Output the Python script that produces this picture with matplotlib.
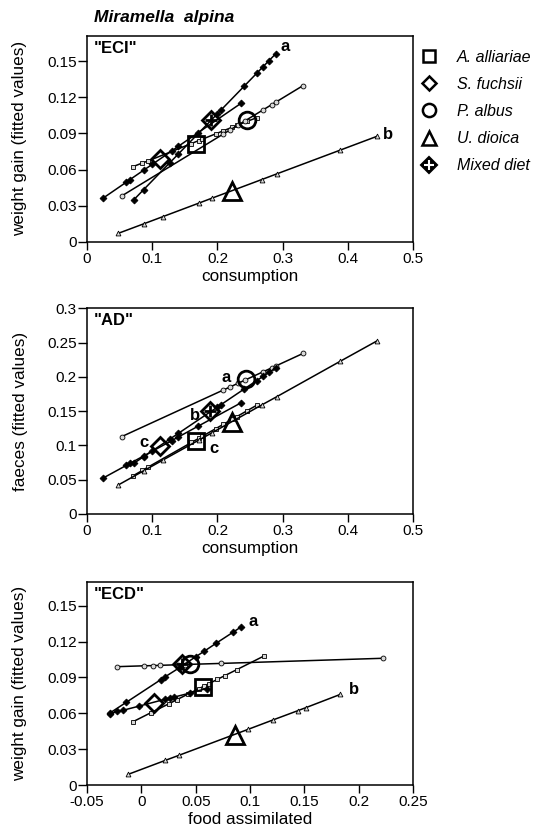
import matplotlib.pyplot as plt
from matplotlib.lines import Line2D
from matplotlib.legend_handler import HandlerTuple

plt.rcParams['font.family'] = ['Liberation Sans', 'DejaVu Sans']

# ------------------------
# Data (fitted values per individual + diet means)
# ------------------------
# consumption (shared by "ECI" and "AD")
cons_sq = [0.071, 0.085, 0.093, 0.16, 0.171, 0.177, 0.197, 0.209, 0.222, 0.23, 0.245, 0.26]
cons_dia = [0.024, 0.06, 0.066, 0.088, 0.1, 0.13, 0.14, 0.17, 0.236]
cons_circ = [0.053, 0.208, 0.219, 0.231, 0.242, 0.27, 0.283, 0.29, 0.331]
cons_tri = [0.048, 0.087, 0.116, 0.172, 0.191, 0.268, 0.291, 0.388, 0.444]
cons_mix = [0.072, 0.087, 0.127, 0.14, 0.2, 0.205, 0.241, 0.26, 0.27, 0.279, 0.289]

# "ECI": weight gain vs consumption
eci_sq = [0.0625, 0.0655, 0.067, 0.0816, 0.084, 0.0853, 0.0896, 0.0922, 0.095, 0.0967, 0.100, 0.103]
eci_dia = [0.036, 0.0494, 0.0517, 0.0599, 0.0643, 0.0755, 0.0793, 0.0905, 0.115]
eci_circ = [0.038, 0.0892, 0.0928, 0.0967, 0.1004, 0.1096, 0.1139, 0.1162, 0.1297]
eci_tri = [0.007, 0.0149, 0.0208, 0.0322, 0.0361, 0.0517, 0.0564, 0.0761, 0.0875]
eci_mix = [0.035, 0.0434, 0.0657, 0.0729, 0.1064, 0.1092, 0.1293, 0.1399, 0.1455, 0.1505, 0.156]

# "AD": faeces vs consumption
ad_sq = [0.0559, 0.0635, 0.068, 0.1042, 0.1101, 0.1134, 0.1242, 0.1307, 0.1378, 0.1421, 0.1503, 0.1584]
ad_dia = [0.052, 0.0707, 0.0738, 0.0852, 0.0914, 0.107, 0.1122, 0.1278, 0.162]
ad_circ = [0.1127, 0.1803, 0.185, 0.1903, 0.1951, 0.2073, 0.213, 0.216, 0.234]
ad_tri = [0.0423, 0.063, 0.0784, 0.108, 0.118, 0.159, 0.171, 0.2225, 0.252]
ad_mix = [0.074, 0.0836, 0.1092, 0.1175, 0.1559, 0.1591, 0.1822, 0.1943, 0.2007, 0.2064, 0.2129]

# "ECD": weight gain vs food assimilated
fa_sq = [-0.008, 0.009, 0.025, 0.033, 0.043, 0.053, 0.058, 0.062, 0.07, 0.077, 0.088, 0.113]
ecd_sq = [0.0528, 0.0606, 0.0678, 0.0715, 0.0761, 0.0806, 0.0829, 0.0847, 0.0884, 0.0916, 0.0966, 0.108]
fa_dia = [-0.029, -0.022, -0.017, -0.002, 0.022, 0.026, 0.03, 0.045, 0.06]
ecd_dia = [0.0597, 0.0615, 0.0625, 0.066, 0.0718, 0.0728, 0.0735, 0.077, 0.0807]
fa_circ = [-0.022, 0.002, 0.011, 0.017, 0.034, 0.04, 0.073, 0.222]
ecd_circ = [0.099, 0.0997, 0.0999, 0.1001, 0.1006, 0.1008, 0.1017, 0.106]
fa_tri = [-0.0125, 0.022, 0.035, 0.098, 0.121, 0.144, 0.151, 0.183]
ecd_tri = [0.0088, 0.0206, 0.025, 0.0465, 0.0544, 0.0622, 0.0646, 0.0758]
fa_mix = [-0.029, -0.014, 0.018, 0.022, 0.035, 0.05, 0.058, 0.069, 0.084, 0.092]
ecd_mix = [0.0602, 0.0691, 0.0882, 0.0906, 0.0981, 0.1073, 0.112, 0.1187, 0.1276, 0.1324]

# diet means (x, y) per panel: square, diamond, circle, triangle, mixed
eci_means = [(0.167, 0.081), (0.112, 0.069), (0.245, 0.101), (0.222, 0.042), (0.19, 0.101)]
ad_means = [(0.167, 0.107), (0.112, 0.099), (0.244, 0.197), (0.222, 0.134), (0.189, 0.150)]
ecd_means = [(0.057, 0.082), (0.012, 0.069), (0.045, 0.101), (0.086, 0.042), (0.037, 0.101)]

diets = ["A. alliariae", "S. fuchsii", "P. albus", "U. dioica", "Mixed diet"]

# ------------------------
# Styles
# ------------------------
small_style = [
    dict(marker='s', mfc='0.85'),
    dict(marker='D', mfc='k'),
    dict(marker='o', mfc='0.85'),
    dict(marker='^', mfc='0.85'),
    dict(marker='D', mfc='k'),
]
big_style = [
    dict(marker='s', ms=11),
    dict(marker='D', ms=9.5),
    dict(marker='o', ms=12),
    dict(marker='^', ms=13),
    dict(marker='D', ms=9.5),
]


def draw_panel(ax, xs, ys, means):
    for x, y, st in zip(xs, ys, small_style):
        ax.plot(x, y, color='k', lw=1.1, ms=3.5, mec='k', mew=0.6, zorder=2, **st)
    for i, (mx, my) in enumerate(means):
        ax.plot([mx], [my], ls='none', mfc='none', mec='k', mew=2, zorder=4, **big_style[i])
        if i == 4:
            ax.plot([mx], [my], ls='none', marker='+', ms=8, mec='k', mew=2, zorder=5)


def style_axes(ax, xlim, ylim, xticks, xlabels, yticks, ylabels, xlabel, ylabel, tag):
    ax.set_xlim(*xlim)
    ax.set_ylim(*ylim)
    ax.set_xticks(xticks)
    ax.set_xticklabels(xlabels)
    ax.set_yticks(yticks)
    ax.set_yticklabels(ylabels)
    ax.tick_params(axis='x', direction='out', length=6, width=1, labelsize=11, pad=1.5)
    ax.tick_params(axis='y', direction='out', length=6.5, width=1, labelsize=11, pad=1)
    for s in ax.spines.values():
        s.set_linewidth(1.1)
    ax.set_xlabel(xlabel, fontsize=12.3, labelpad=2)
    ax.set_ylabel(ylabel, fontsize=12.3, labelpad=14)
    ax.text(0.02, 0.975, tag, transform=ax.transAxes, fontsize=12, weight='bold',
            ha='left', va='top')


fig = plt.figure(figsize=(5.49, 8.33), dpi=100)
ax1 = fig.add_axes([0.1585, 0.7098, 0.594, 0.247])
ax2 = fig.add_axes([0.1585, 0.383, 0.594, 0.247])
ax3 = fig.add_axes([0.1585, 0.0576, 0.594, 0.244])

cons = [cons_sq, cons_dia, cons_circ, cons_tri, cons_mix]
x_lab = [0, 0.1, 0.2, 0.3, 0.4, 0.5]
x_txt = ["0", "0.1", "0.2", "0.3", "0.4", "0.5"]
y_gain = [0, 0.03, 0.06, 0.09, 0.12, 0.15]
y_gain_txt = ["0", "0.03", "0.06", "0.09", "0.12", "0.15"]

# ECI
draw_panel(ax1, cons, [eci_sq, eci_dia, eci_circ, eci_tri, eci_mix], eci_means)
style_axes(ax1, (0, 0.5), (0, 0.171), x_lab, x_txt, y_gain, y_gain_txt,
           "consumption", "weight gain (fitted values)", '"ECI"')
ax1.text(0.304, 0.1625, "a", fontsize=12, weight='bold', ha='center', va='center')
ax1.text(0.462, 0.089, "b", fontsize=12, weight='bold', ha='center', va='center')

# AD
draw_panel(ax2, cons, [ad_sq, ad_dia, ad_circ, ad_tri, ad_mix], ad_means)
style_axes(ax2, (0, 0.5), (0, 0.3), x_lab, x_txt,
           [0, 0.05, 0.1, 0.15, 0.2, 0.25, 0.3],
           ["0", "0.05", "0.1", "0.15", "0.2", "0.25", "0.3"],
           "consumption", "faeces (fitted values)", '"AD"')
ax2.text(0.214, 0.199, "a", fontsize=12, weight='bold', ha='center', va='center')
ax2.text(0.166, 0.144, "b", fontsize=12, weight='bold', ha='center', va='center')
ax2.text(0.087, 0.104, "c", fontsize=12, weight='bold', ha='center', va='center')
ax2.text(0.194, 0.096, "c", fontsize=12, weight='bold', ha='center', va='center')

# ECD
draw_panel(ax3, [fa_sq, fa_dia, fa_circ, fa_tri, fa_mix],
           [ecd_sq, ecd_dia, ecd_circ, ecd_tri, ecd_mix], ecd_means)
style_axes(ax3, (-0.05, 0.25), (0, 0.17),
           [-0.05, 0, 0.05, 0.1, 0.15, 0.2, 0.25],
           ["-0.05", "0", "0.05", "0.1", "0.15", "0.2", "0.25"],
           y_gain, y_gain_txt,
           "food assimilated", "weight gain (fitted values)", '"ECD"')
ax3.text(0.103, 0.137, "a", fontsize=12, weight='bold', ha='center', va='center')
ax3.text(0.196, 0.080, "b", fontsize=12, weight='bold', ha='center', va='center')

# Title
fig.text(0.171, 0.979, "Miramella  alpina", fontsize=12.5, weight='bold', style='italic',
         ha='left', va='center')

# Legend
handles = [
    Line2D([], [], ls='none', marker='s', ms=9, mfc='none', mec='k', mew=1.8),
    Line2D([], [], ls='none', marker='D', ms=7.5, mfc='none', mec='k', mew=1.8),
    Line2D([], [], ls='none', marker='o', ms=9.5, mfc='none', mec='k', mew=1.8),
    Line2D([], [], ls='none', marker='^', ms=10, mfc='none', mec='k', mew=1.8),
    (Line2D([], [], ls='none', marker='D', ms=8, mfc='k', mec='k', mew=1.5),
     Line2D([], [], ls='none', marker='+', ms=7, mec='w', mew=1.5)),
]
fig.legend(handles, diets, loc='upper left', bbox_to_anchor=(0.753, 0.948),
           frameon=False, prop=dict(style='italic', size=11.5), labelspacing=0.76,
           handlelength=1.2, handletextpad=1.1, borderaxespad=0,
           handler_map={tuple: HandlerTuple(ndivide=1, pad=0)})

fig.savefig("out.png", dpi=100)
